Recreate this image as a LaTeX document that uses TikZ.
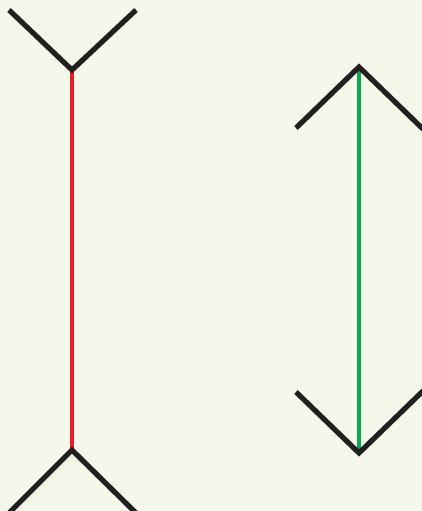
\documentclass[tikz,border=0pt]{standalone}
\usepackage{xcolor}
\usetikzlibrary{calc}
\definecolor{bgcream}{HTML}{F5F7EA}
\definecolor{finblack}{HTML}{231F20}
\definecolor{shaftred}{HTML}{EC1C2A}
\definecolor{shaftgreen}{HTML}{0BA94F}
\tikzset{
  fin/.style={draw=finblack,line width=5.2pt,line join=miter},
  shaft/.style={line width=4.4pt}
}
\begin{document}
\begin{tikzpicture}[x=1pt,y=-1pt]
\fill[bgcream] (0,0) rectangle (422,511);
\useasboundingbox (0,0) rectangle (422,511);
\clip (0,0) rectangle (422,511);
% left figure: fins open outwards
\coordinate (ltop) at (72,70);
\coordinate (lbot) at (72,450);
\draw[shaft,draw=shaftred] (ltop)--(lbot);
\draw[fin] (9,10)--(ltop)--(136,10);
\draw[fin] (9,513)--(lbot)--(136,513);
% right figure: fins pointing inwards
\coordinate (rtop) at (359,67);
\coordinate (rbot) at (359,453);
\draw[shaft,draw=shaftgreen] (rtop)--(rbot);
\draw[fin] (296,128)--(rtop)--(424,130);
\draw[fin] (296,392)--(rbot)--(424,390);
\end{tikzpicture}
\end{document}
